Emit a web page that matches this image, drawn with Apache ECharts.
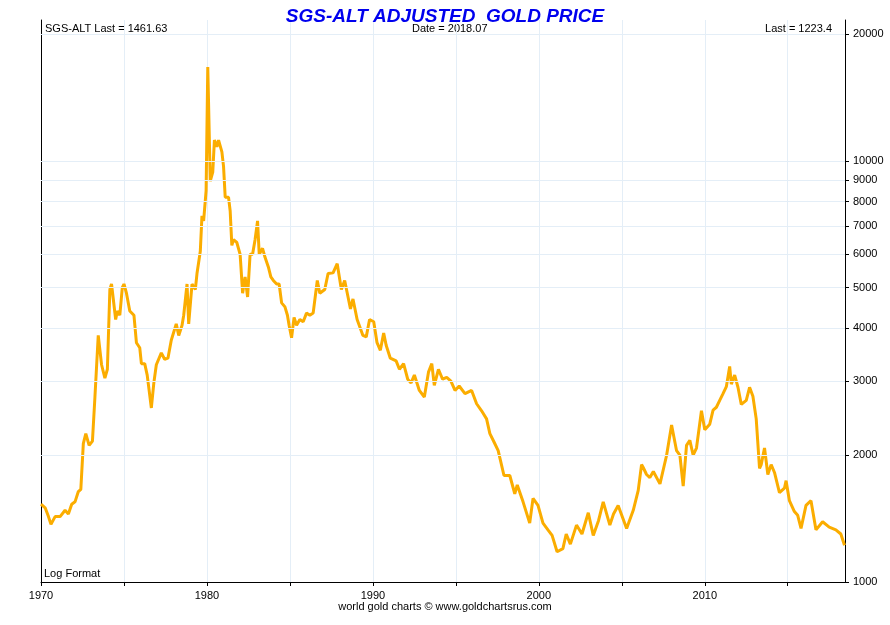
<!DOCTYPE html>
<html><head><meta charset="utf-8">
<script src="https://cdn.jsdelivr.net/npm/echarts@6/dist/echarts.min.js"></script>
<style>html,body{margin:0;padding:0;background:#fff}#c{width:890px;height:625px}</style>
</head><body><div id="c"></div>
<script>
const years = [1970.0,1970.25,1970.45,1970.6,1970.85,1971.15,1971.45,1971.65,1971.85,1972.05,1972.25,1972.4,1972.55,1972.7,1972.9,1973.1,1973.25,1973.45,1973.65,1973.85,1974.0,1974.15,1974.25,1974.5,1974.6,1974.75,1974.9,1975.0,1975.15,1975.35,1975.6,1975.75,1975.95,1976.05,1976.25,1976.4,1976.65,1976.8,1976.95,1977.25,1977.45,1977.65,1977.85,1978.15,1978.3,1978.5,1978.6,1978.8,1978.9,1979.1,1979.3,1979.4,1979.6,1979.7,1979.8,1979.95,1980.05,1980.2,1980.35,1980.45,1980.6,1980.7,1980.9,1981.0,1981.1,1981.3,1981.4,1981.5,1981.6,1981.8,1982.0,1982.15,1982.3,1982.45,1982.6,1982.75,1982.9,1983.05,1983.15,1983.35,1983.5,1983.7,1983.85,1984.0,1984.2,1984.35,1984.5,1984.7,1984.85,1984.95,1985.1,1985.25,1985.4,1985.6,1985.8,1986.0,1986.2,1986.4,1986.65,1986.8,1987.1,1987.3,1987.6,1987.85,1988.1,1988.3,1988.65,1988.8,1989.05,1989.4,1989.6,1989.8,1990.05,1990.25,1990.45,1990.65,1990.8,1991.05,1991.4,1991.6,1991.85,1992.1,1992.3,1992.5,1992.8,1993.1,1993.35,1993.55,1993.7,1993.95,1994.2,1994.45,1994.7,1994.95,1995.2,1995.55,1995.95,1996.25,1996.55,1996.85,1997.05,1997.3,1997.55,1997.9,1998.25,1998.55,1998.7,1999.05,1999.45,1999.65,1999.95,2000.25,2000.55,2000.8,2001.1,2001.45,2001.65,2001.9,2002.27,2002.6,2002.98,2003.28,2003.6,2003.88,2004.28,2004.5,2004.78,2005.29,2005.69,2005.99,2006.19,2006.29,2006.49,2006.69,2006.9,2007.3,2007.7,2008.0,2008.3,2008.5,2008.7,2008.9,2009.1,2009.3,2009.5,2009.8,2010.0,2010.3,2010.5,2010.7,2010.9,2011.1,2011.3,2011.5,2011.6,2011.8,2012.0,2012.2,2012.5,2012.7,2012.9,2013.1,2013.3,2013.4,2013.6,2013.8,2014.0,2014.2,2014.5,2014.8,2014.9,2015.1,2015.4,2015.6,2015.8,2016.1,2016.4,2016.7,2017.1,2017.5,2017.9,2018.2,2018.42];
const prices = [1530,1500,1430,1370,1430,1430,1480,1450,1530,1550,1640,1660,2130,2250,2110,2160,2750,3850,3280,3050,3200,4950,5100,4200,4400,4300,5000,5100,4850,4400,4300,3700,3600,3300,3300,3100,2590,2970,3280,3500,3380,3400,3750,4100,3850,4070,4300,5100,4100,5100,4950,5400,6100,7400,7200,8500,16700,8950,9400,11200,10800,11200,10500,9700,8200,8200,7600,6300,6500,6400,6000,4850,5300,4750,6000,6000,6500,7200,6000,6200,5900,5600,5300,5200,5100,5100,4600,4500,4300,4070,3800,4250,4070,4200,4150,4350,4300,4350,5200,4850,4950,5400,5420,5700,4950,5200,4450,4700,4200,3850,3820,4200,4150,3700,3550,3900,3650,3400,3350,3200,3300,3030,2970,3100,2850,2750,3150,3300,2930,3200,3030,3060,3000,2850,2920,2800,2850,2650,2550,2440,2250,2150,2050,1790,1790,1620,1700,1550,1380,1580,1520,1380,1330,1290,1180,1200,1300,1230,1365,1300,1460,1290,1400,1550,1365,1450,1520,1340,1480,1650,1900,1870,1800,1770,1830,1710,2000,2360,2050,2000,1690,2110,2170,2000,2080,2550,2300,2370,2560,2600,2700,2800,2910,3250,2950,3100,2900,2640,2700,2900,2760,2440,1860,1900,2080,1800,1900,1820,1630,1670,1740,1560,1470,1440,1340,1520,1560,1330,1390,1350,1330,1300,1223];
const yTicks = [1000,2000,3000,4000,5000,6000,7000,8000,9000,10000,20000];
const title = 'SGS-ALT ADJUSTED  GOLD PRICE';
const headerLeft = 'SGS-ALT Last = 1461.63';
const headerMid = 'Date = 2018.07';
const headerRight = 'Last = 1223.4';
const footer = 'world gold charts © www.goldchartsrus.com';

const chart = echarts.init(document.getElementById('c'));
const font = 'Arial, "Liberation Sans", sans-serif';
const ts = {fontSize:11, fill:'#000', fontFamily:font};
chart.setOption({
  animation:false,
  textStyle:{fontFamily:font},
  title:{text:title, left:'center', top:2, textStyle:{color:'#0000ee', fontSize:19, fontStyle:'italic', fontWeight:'bold', fontFamily:font}},
  grid:{left:41, right:45, top:20, bottom:43},
  xAxis:{type:'value', min:1970, max:2018.45, interval:5,
    axisLine:{lineStyle:{color:'#000'}}, axisTick:{length:4, lineStyle:{color:'#000'}},
    axisLabel:{color:'#000', fontSize:11, showMaxLabel:false, formatter:v=>v%10===0?String(v):''},
    splitLine:{show:true, lineStyle:{color:'#e4eef7', width:1}}},
  yAxis:[{type:'log', logBase:10, min:1000, max:21600, position:'right',
    axisLine:{show:true, lineStyle:{color:'#000'}},
    axisTick:{show:true, length:4, customValues:yTicks, lineStyle:{color:'#000'}},
    axisLabel:{color:'#000', fontSize:11, customValues:yTicks, formatter:v=>String(Math.round(v))},
    splitLine:{show:false}, minorTick:{show:false}, minorSplitLine:{show:false}},
   {type:'value', min:0, max:1, position:'left',
    axisLine:{show:true, onZero:false, lineStyle:{color:'#000'}}, axisTick:{show:false}, axisLabel:{show:false}, splitLine:{show:false}, minorTick:{show:false}}],
  series:[{type:'line', yAxisIndex:0, data:years.map((y,i)=>[y,prices[i]]), showSymbol:false,
    lineStyle:{color:'#fbad00', width:3}, itemStyle:{color:'#fbad00'},
    markLine:{silent:true, symbol:'none', label:{show:false}, lineStyle:{color:'#e4eef7', width:1, type:'solid'},
      data:yTicks.slice(1).map(v=>({yAxis:v}))}}],
  graphic:[
    {type:'text', left:45, top:23, style:Object.assign({text:headerLeft}, ts)},
    {type:'text', left:412, top:23, style:Object.assign({text:headerMid}, ts)},
    {type:'text', right:58, top:23, style:Object.assign({text:headerRight}, ts)},
    {type:'text', left:44, top:568, style:Object.assign({text:'Log Format'}, ts)},
    {type:'text', left:'center', top:601, style:Object.assign({text:footer}, ts)}
  ]
});
</script></body></html>
